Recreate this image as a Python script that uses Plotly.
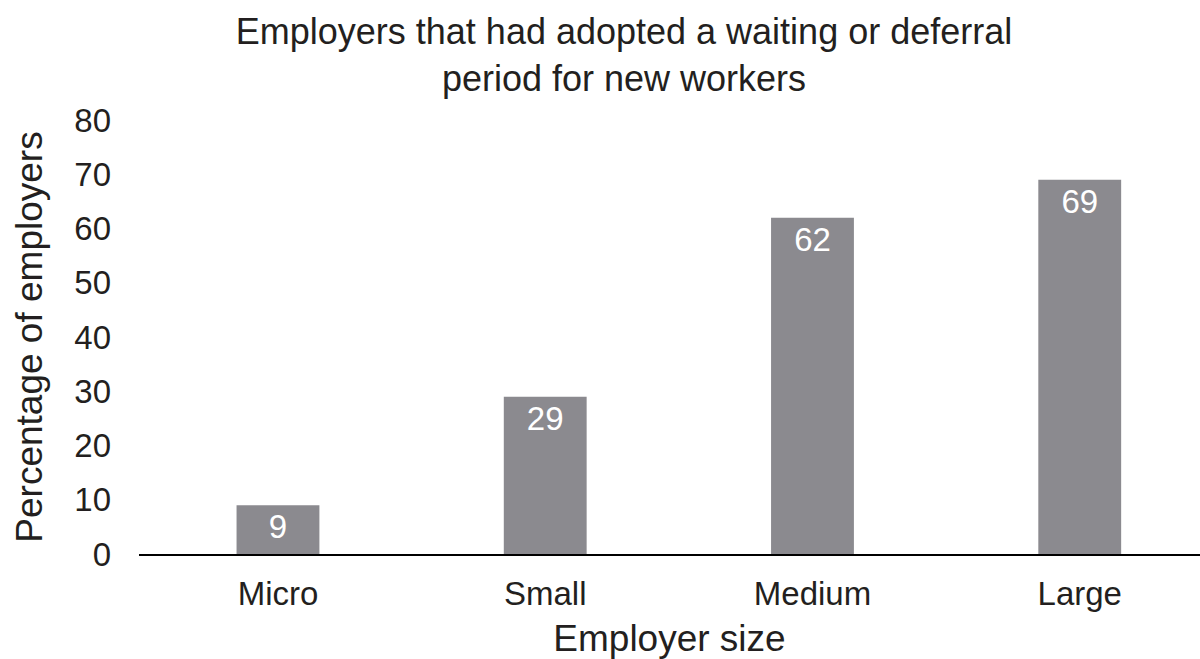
import plotly.graph_objects as go

categories = ["Micro", "Small", "Medium", "Large"]
values = [9, 29, 62, 69]
y_ticks = [0, 10, 20, 30, 40, 50, 60, 70, 80]

FONT = "Liberation Sans, Arial, sans-serif"
TXT = "#231f20"
BAR = "#8b8a8f"

fig = go.Figure(
    go.Bar(
        x=categories,
        y=values,
        width=0.31,
        marker=dict(color=BAR, line=dict(width=0)),
        text=[str(v) for v in values],
        textposition="inside",
        insidetextanchor="end",
        constraintext="none",
        textangle=0,
        textfont=dict(family=FONT, size=33, color="white"),
        hoverinfo="skip",
    )
)

fig.update_layout(
    width=1200,
    height=659,
    paper_bgcolor="white",
    plot_bgcolor="white",
    showlegend=False,
    margin=dict(l=139, r=0, t=120, b=105),
    font=dict(family=FONT, color=TXT, size=32),
    title=dict(
        text="Employers that had adopted a waiting or deferral<br>period for new workers",
        x=624 / 1200,
        xanchor="center",
        xref="container",
        yref="container",
        y=1 - 44 / 659,
        yanchor="top",
        font=dict(family=FONT, size=36, color=TXT),
    ),
    xaxis=dict(
        type="category",
        range=[-0.52, 3.45],
        showline=True,
        linecolor="black",
        linewidth=2,
        ticks="",
        showgrid=False,
        zeroline=False,
        tickfont=dict(family=FONT, size=33, color=TXT),
        ticklabelstandoff=9,
        title=dict(text="Employer size", font=dict(family=FONT, size=37, color=TXT), standoff=16),
    ),
    yaxis=dict(
        range=[0, 80],
        tickvals=y_ticks,
        showline=False,
        showgrid=False,
        zeroline=False,
        ticks="",
        tickfont=dict(family=FONT, size=33, color=TXT),
        ticklabelstandoff=27,
        title=dict(text="Percentage of employers", font=dict(family=FONT, size=37, color=TXT), standoff=20),
    ),
)

fig.write_html(
    "out.html",
    config={"displayModeBar": False},
    post_script="document.body.style.margin='0';",
)
